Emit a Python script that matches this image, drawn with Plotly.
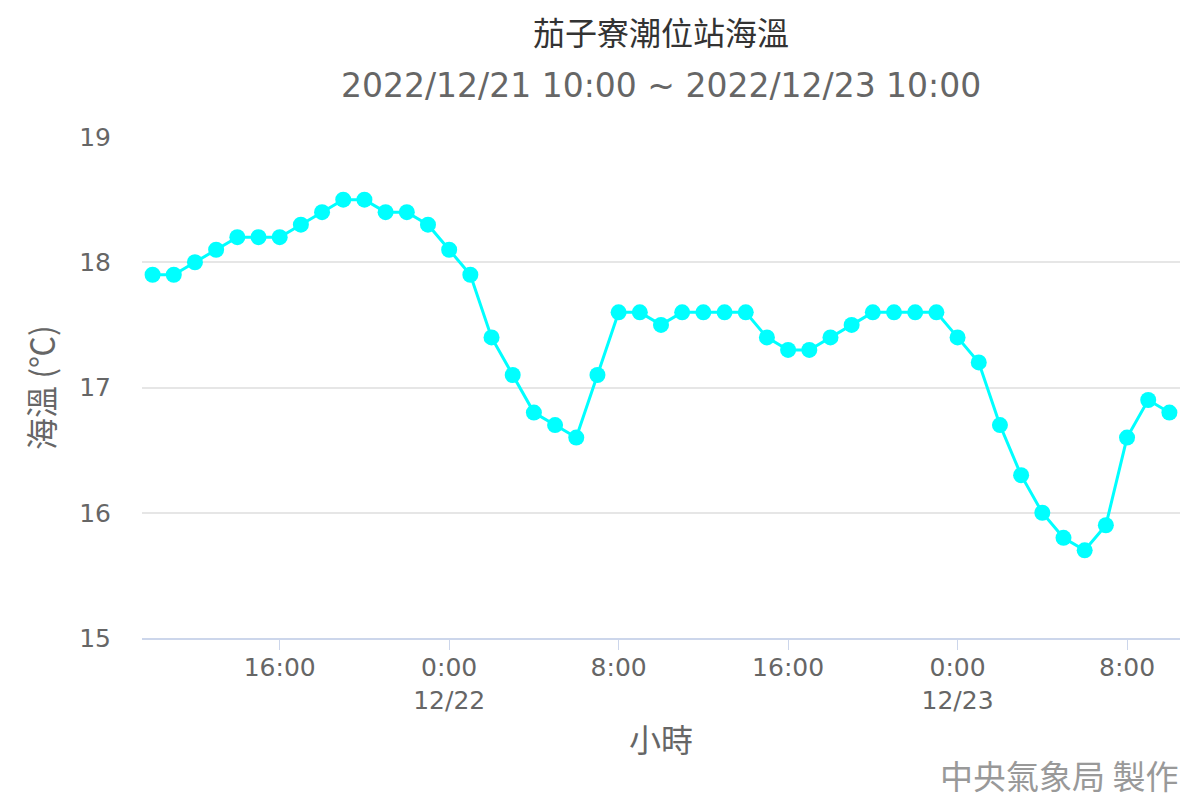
import plotly.graph_objects as go
import pandas as pd

# Hourly observation times (2022/12/21 10:00 ~ 2022/12/23 10:00)
times = pd.date_range("2022-12-21 10:00", "2022-12-23 10:00", freq="h")

sea_temp = [
    17.9, 17.9, 18.0, 18.1, 18.2, 18.2, 18.2, 18.3, 18.4, 18.5, 18.5, 18.4, 18.4, 18.3,
    18.1, 17.9, 17.4, 17.1, 16.8, 16.7, 16.6, 17.1, 17.6, 17.6, 17.5, 17.6, 17.6, 17.6,
    17.6, 17.4, 17.3, 17.3, 17.4, 17.5, 17.6, 17.6, 17.6, 17.6,
    17.4, 17.2, 16.7, 16.3, 16.0, 15.8, 15.7, 15.9, 16.6, 16.9, 16.8,
]

tick_times = ["2022-12-21 16:00", "2022-12-22 00:00", "2022-12-22 08:00",
              "2022-12-22 16:00", "2022-12-23 00:00", "2022-12-23 08:00"]
tick_labels = ["16:00", "0:00<br>12/22", "8:00", "16:00", "0:00<br>12/23", "8:00"]

y_ticks = [15, 16, 17, 18, 19]

title_text = "茄子寮潮位站海溫"
subtitle_text = "2022/12/21 10:00 ~ 2022/12/23 10:00"
x_title = "小時"
y_title = "海溫 (℃)"
credit_text = "中央氣象局 製作"

CJK = "Noto Sans CJK TC"
LAT = "DejaVu Sans, Noto Sans CJK TC"

fig = go.Figure()
fig.add_trace(go.Scatter(
    x=times, y=sea_temp, mode="lines+markers",
    line=dict(color="#00ffff", width=3),
    marker=dict(color="#00ffff", size=16),
    hoverinfo="x+y", showlegend=False,
))

fig.update_layout(
    width=1192, height=792,
    paper_bgcolor="white", plot_bgcolor="white",
    margin=dict(l=134, r=20, t=129, b=162),
    xaxis=dict(
        type="date", automargin=False,
        range=["2022-12-21 09:30", "2022-12-23 10:30"],
        tickmode="array", tickvals=tick_times, ticktext=tick_labels,
        showgrid=False, zeroline=False,
        showline=True, linecolor="#ccd6eb", linewidth=2,
        ticks="outside", ticklen=10, tickcolor="#ccd6eb", tickwidth=1,
        ticklabelstandoff=-4,
        tickfont=dict(family=LAT, size=25, color="#666666"),
        title=dict(text=x_title, font=dict(family=CJK, size=32, color="#666666"), standoff=16),
    ),
    yaxis=dict(
        range=[15, 19], tickmode="array", tickvals=y_ticks, automargin=False,
        showgrid=True, gridcolor="#e6e6e6", gridwidth=1.5,
        zeroline=False, showline=False, ticks="",
        ticklabelstandoff=30,
        tickfont=dict(family=LAT, size=25, color="#666666"),
        title=dict(text=y_title, font=dict(family=CJK, size=32, color="#666666"), standoff=14),
    ),
    annotations=[
        dict(text=title_text, xref="paper", yref="paper", x=0.5, y=1, xanchor="center",
             yanchor="middle", yshift=106, showarrow=False, borderpad=0,
             font=dict(family=CJK, size=32, color="#333333")),
        dict(text=subtitle_text, xref="paper", yref="paper", x=0.5, y=1, xanchor="center",
             yanchor="middle", yshift=52, showarrow=False,
             font=dict(family=LAT, size=33, color="#666666")),
        dict(text=credit_text, xref="paper", yref="paper", x=1, y=0, xanchor="right",
             yanchor="middle", yshift=-137, showarrow=False,
             font=dict(family=CJK, size=33, color="#999999")),
    ],
)

fig.write_html("out.html")
